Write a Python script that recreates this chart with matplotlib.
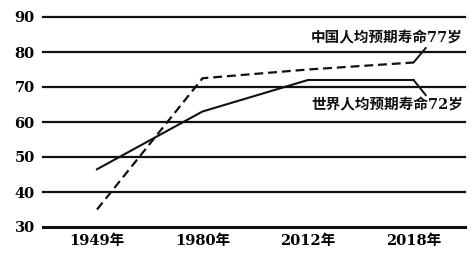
import matplotlib
matplotlib.use("Agg")
import matplotlib.pyplot as plt

years = ["1949年", "1980年", "2012年", "2018年"]
china = [35, 72.5, 75, 77]
world = [46.5, 63, 72, 72]
yticks = [30, 40, 50, 60, 70, 80, 90]
china_label = "中国人均预期寿命77岁"
world_label = "世界人均预期寿命72岁"

plt.rcParams['font.family'] = ['DejaVu Serif', 'Noto Sans CJK SC']
plt.rcParams['font.weight'] = 'bold'

fig = plt.figure(figsize=(4.74, 2.6), dpi=100)
ax = fig.add_axes([43/474, 33/260, 422/474, 210/260])
x = list(range(len(years)))
ax.set_xlim(-0.512, 3.488)
ax.set_ylim(30, 90)

for v in yticks:
    ax.axhline(v, color='#111111', lw=2.2 if v == 30 else 1.6, clip_on=False, zorder=1)

ax.plot(x, world, color='#111111', lw=1.5, zorder=3)
ax.plot(x, china, color='#111111', lw=1.6, dashes=(4, 2.2), zorder=3)

ax.annotate(china_label, xy=(x[-1], china[-1]), xytext=(3.47, 84),
            ha='right', va='center', fontsize=10.5, fontweight='bold', color='#111111',
            arrowprops=dict(arrowstyle='-', color='#111111', lw=1.4,
                            shrinkA=0, shrinkB=0, relpos=(0.77, 0.0)))
ax.annotate(world_label, xy=(x[-1], world[-1]), xytext=(3.47, 64.8),
            ha='right', va='center', fontsize=10.5, fontweight='bold', color='#111111',
            arrowprops=dict(arrowstyle='-', color='#111111', lw=1.4,
                            shrinkA=0, shrinkB=0, relpos=(0.77, 1.0)))

ax.set_xticks(x)
ax.set_xticklabels(years, fontsize=10.5, fontweight='bold')
ax.set_yticks(yticks)
ax.set_yticklabels([str(v) for v in yticks], fontsize=10.5, fontweight='bold')
ax.tick_params(length=0, pad=6)
ax.tick_params(axis='x', pad=5)
for s in ax.spines.values():
    s.set_visible(False)

fig.savefig("out.png", dpi=100)
